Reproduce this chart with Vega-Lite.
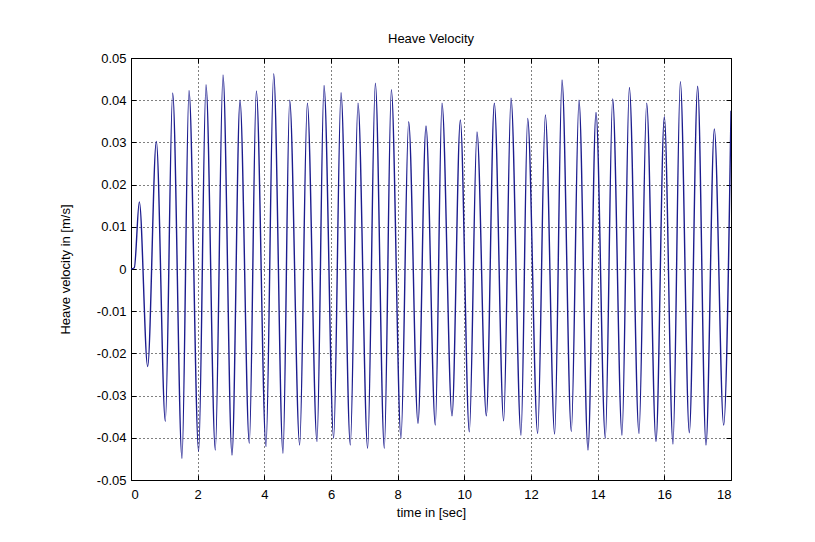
{
  "$schema": "https://vega.github.io/schema/vega-lite/v6.json",
  "width": 600,
  "height": 422,
  "autosize": {"type": "none"},
  "padding": {"left": 131, "top": 58, "right": 84, "bottom": 62},
  "background": "white",
  "title": {"text": "Heave Velocity", "font": "Liberation Sans", "fontSize": 13, "fontWeight": "normal", "color": "black", "offset": 6},
  "config": {
    "view": {"stroke": "black", "strokeWidth": 1},
    "axis": {
      "labelFont": "Liberation Sans", "labelFontSize": 13, "labelColor": "black",
      "titleFont": "Liberation Sans", "titleFontSize": 13, "titleFontWeight": "normal", "titleColor": "black",
      "domainColor": "black", "tickColor": "black", "gridColor": "black", "gridOpacity": 1, "gridDash": [1, 3], "gridWidth": 1
    }
  },
  "data": {"values": [
    {"t": 0, "v": 0}, {"t": 0.1, "v": 0.0003}, {"t": 0.25, "v": 0.0159}, {"t": 0.5, "v": -0.0231}, {"t": 0.76, "v": 0.0302},
    {"t": 1.03, "v": -0.0361}, {"t": 1.25, "v": 0.0417}, {"t": 1.53, "v": -0.0449}, {"t": 1.74, "v": 0.0423},
    {"t": 2.03, "v": -0.0432}, {"t": 2.25, "v": 0.0437}, {"t": 2.53, "v": -0.0429}, {"t": 2.76, "v": 0.046},
    {"t": 3.03, "v": -0.0441}, {"t": 3.27, "v": 0.040}, {"t": 3.55, "v": -0.0413}, {"t": 3.76, "v": 0.0422},
    {"t": 4.05, "v": -0.0421}, {"t": 4.28, "v": 0.0463}, {"t": 4.56, "v": -0.0437}, {"t": 4.76, "v": 0.040},
    {"t": 5.06, "v": -0.0417}, {"t": 5.29, "v": 0.0393}, {"t": 5.58, "v": -0.0409}, {"t": 5.79, "v": 0.0435},
    {"t": 6.08, "v": -0.0401}, {"t": 6.3, "v": 0.0418}, {"t": 6.58, "v": -0.0417}, {"t": 6.81, "v": 0.0393},
    {"t": 7.1, "v": -0.0425}, {"t": 7.33, "v": 0.044}, {"t": 7.6, "v": -0.0425}, {"t": 7.81, "v": 0.0425},
    {"t": 8.1, "v": -0.0401}, {"t": 8.33, "v": 0.0349}, {"t": 8.61, "v": -0.0366}, {"t": 8.85, "v": 0.0339},
    {"t": 9.13, "v": -0.037}, {"t": 9.33, "v": 0.0393}, {"t": 9.63, "v": -0.0348}, {"t": 9.88, "v": 0.0353},
    {"t": 10.15, "v": -0.0386}, {"t": 10.38, "v": 0.0325}, {"t": 10.66, "v": -0.0348}, {"t": 10.9, "v": 0.0393},
    {"t": 11.18, "v": -0.036}, {"t": 11.4, "v": 0.0405}, {"t": 11.7, "v": -0.0394}, {"t": 11.9, "v": 0.0357},
    {"t": 12.2, "v": -0.039}, {"t": 12.43, "v": 0.0365}, {"t": 12.71, "v": -0.0391}, {"t": 12.93, "v": 0.0448},
    {"t": 13.21, "v": -0.0385}, {"t": 13.44, "v": 0.040}, {"t": 13.71, "v": -0.0429}, {"t": 13.95, "v": 0.0371},
    {"t": 14.23, "v": -0.0401}, {"t": 14.45, "v": 0.0403}, {"t": 14.73, "v": -0.0394}, {"t": 14.95, "v": 0.043},
    {"t": 15.24, "v": -0.039}, {"t": 15.47, "v": 0.0393}, {"t": 15.75, "v": -0.0409}, {"t": 16.0, "v": 0.0361},
    {"t": 16.26, "v": -0.0415}, {"t": 16.48, "v": 0.0444}, {"t": 16.75, "v": -0.0388}, {"t": 17.0, "v": 0.0433},
    {"t": 17.25, "v": -0.0417}, {"t": 17.5, "v": 0.0332}, {"t": 17.78, "v": -0.037}, {"t": 18.0, "v": 0.0375}
  ]},
  "layer": [
    {
      "mark": {"type": "line", "interpolate": "monotone", "color": "#1c1c8e", "strokeWidth": 1.4, "clip": true},
      "encoding": {
        "x": {"field": "t", "type": "quantitative", "scale": {"domain": [0, 18], "nice": false, "zero": false},
          "axis": {"title": "time in [sec]", "values": [0, 2, 4, 6, 8, 10, 12, 14, 16, 18], "grid": true, "tickSize": -5, "labelPadding": 13, "titlePadding": 5, "domain": false}},
        "y": {"field": "v", "type": "quantitative", "scale": {"domain": [-0.05, 0.05], "nice": false, "zero": false},
          "axis": {"title": "Heave velocity in [m/s]", "values": [-0.05, -0.04, -0.03, -0.02, -0.01, 0, 0.01, 0.02, 0.03, 0.04, 0.05],
            "labelExpr": "datum.value == 0 ? '0' : replace(format(datum.value, '.2f'), '\u2212', '-')",
            "grid": true, "tickSize": -5, "labelPadding": 10, "titlePadding": 24, "domain": false}}
      }
    },
    {
      "mark": {"type": "line", "opacity": 0},
      "encoding": {
        "x": {"field": "t", "type": "quantitative", "axis": {"orient": "top", "title": null, "labels": false, "grid": false, "domain": false, "tickSize": -5, "values": [0, 2, 4, 6, 8, 10, 12, 14, 16, 18]}},
        "y": {"field": "v", "type": "quantitative", "axis": {"orient": "right", "title": null, "labels": false, "grid": false, "domain": false, "tickSize": -5, "values": [-0.05, -0.04, -0.03, -0.02, -0.01, 0, 0.01, 0.02, 0.03, 0.04, 0.05]}}
      }
    }
  ],
  "resolve": {"axis": {"x": "independent", "y": "independent"}}
}
